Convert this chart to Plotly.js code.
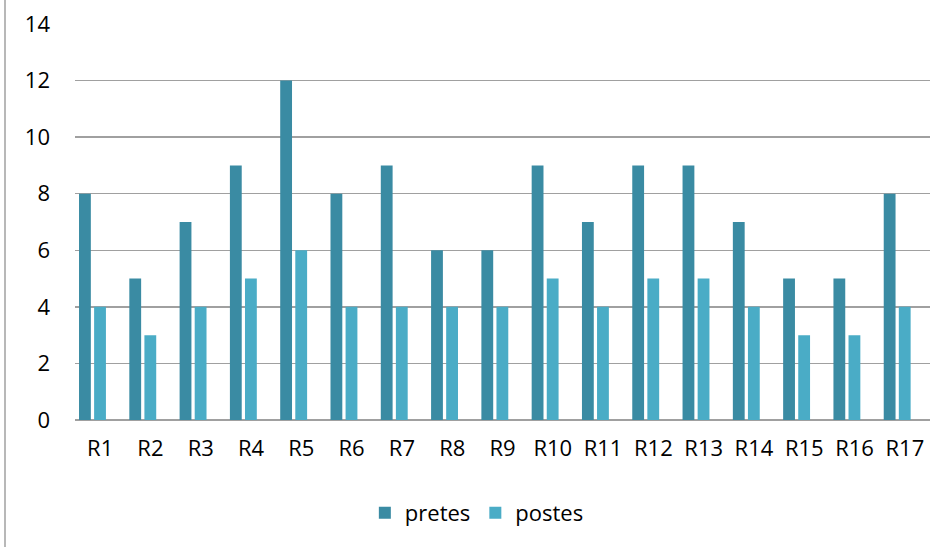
<!DOCTYPE html>
<html>
<head>
<meta charset="utf-8">
<script src="https://cdn.plot.ly/plotly-3.0.1.min.js"></script>
<style>
  html, body { margin: 0; padding: 0; background: #fff; }
  #chart { width: 945px; height: 547px; }
</style>
</head>
<body>
<div id="chart"></div>
<script>
const categories = ["R1","R2","R3","R4","R5","R6","R7","R8","R9","R10","R11","R12","R13","R14","R15","R16","R17"];
const pretes = [8,5,7,9,12,8,9,6,6,9,7,9,9,7,5,5,8];
const postes = [4,3,4,5,6,4,4,4,4,5,4,5,5,4,3,3,4];
const yTicks = [0,2,4,6,8,10,12,14];

const font = { family: "Open Sans, Noto Sans, sans-serif", size: 22, color: "#000" };

const traces = [
  { type: "bar", name: "pretes", x: categories, y: pretes,
    marker: { color: "#3A8BA3" }, width: 0.235, offset: -0.42, hoverinfo: "x+y" },
  { type: "bar", name: "postes", x: categories, y: postes,
    marker: { color: "#4AACC6" }, width: 0.235, offset: -0.12, hoverinfo: "x+y" }
];

const layout = {
  width: 945, height: 547,
  margin: { l: 75, r: 15, t: 24, b: 127 },
  paper_bgcolor: "#fff", plot_bgcolor: "#fff",
  font: font,
  showlegend: true,
  barmode: "overlay",
  xaxis: {
    type: "category", showgrid: false, ticks: "", showline: false,
    zeroline: false, tickfont: font, ticklabelstandoff: 13
  },
  yaxis: {
    range: [0, 14], tickvals: yTicks, ticktext: yTicks.map(String),
    showgrid: true, gridcolor: "#A0A0A0", gridwidth: 1.5,
    zeroline: true, zerolinecolor: "#A0A0A0", zerolinewidth: 1.5,
    ticks: "", showline: false, tickfont: font, ticklabelstandoff: 24
  },
  legend: {
    orientation: "h", x: 0.47, xanchor: "center", y: -0.235, yanchor: "middle",
    font: font, itemwidth: 30, traceorder: "normal"
  },
  shapes: [
    { type: "line", xref: "paper", yref: "paper",
      x0: -70/855, x1: -70/855, y0: -127/396, y1: 24/396 + 1,
      line: { color: "#B8B8B8", width: 2 } }
  ]
};

Plotly.newPlot("chart", traces, layout, { displayModeBar: false, staticPlot: true });
</script>
</body>
</html>
